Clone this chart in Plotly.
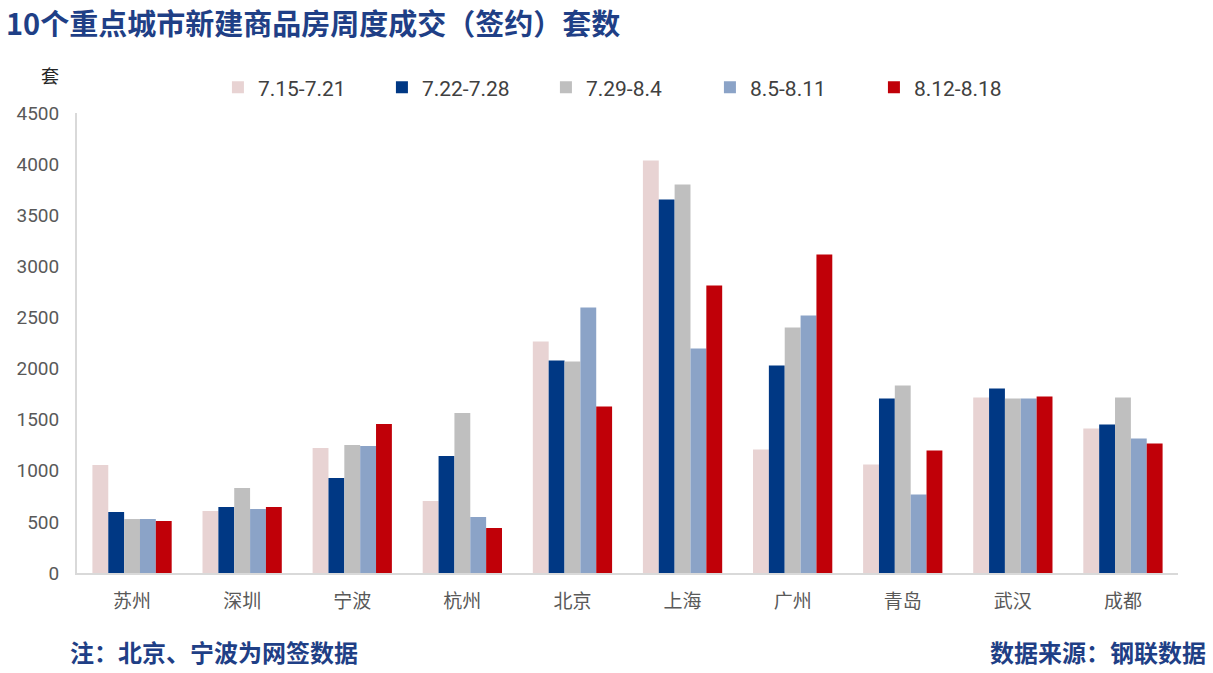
import plotly.graph_objects as go

cities = ["苏州", "深圳", "宁波", "杭州", "北京", "上海", "广州", "青岛", "武汉", "成都"]
weeks = ["7.15-7.21", "7.22-7.28", "7.29-8.4", "8.5-8.11", "8.12-8.18"]
w1 = [1057, 607, 1223, 704, 2265, 4035, 1208, 1061, 1717, 1414]
w2 = [597, 646, 929, 1145, 2079, 3654, 2030, 1707, 1805, 1453]
w3 = [528, 831, 1252, 1565, 2069, 3801, 2402, 1834, 1707, 1717]
w4 = [528, 626, 1242, 548, 2597, 2196, 2519, 768, 1707, 1316]
w5 = [509, 646, 1458, 440, 1629, 2813, 3116, 1198, 1727, 1267]
series = [w1, w2, w3, w4, w5]
colors = ["#E8D3D3", "#003884", "#BFBFBF", "#8BA3C7", "#C00008"]
yticks = [0, 500, 1000, 1500, 2000, 2500, 3000, 3500, 4000, 4500]

fig = go.Figure()
for name, vals, col in zip(weeks, series, colors):
    fig.add_trace(go.Bar(x=cities, y=vals, name=name, marker_color=col,
                         marker_line_width=0))

navy = "#1F3F86"
fig.update_layout(
    width=1213, height=673,
    margin=dict(l=77, r=35, t=113, b=100),
    paper_bgcolor="white", plot_bgcolor="white",
    barmode="group", bargap=0.28, bargroupgap=0,
    font=dict(family="Noto Sans CJK SC, sans-serif", color="#595959"),
    legend=dict(orientation="h", x=0.128, xanchor="left", y=1.055, yanchor="middle",
                font=dict(size=21, color="#404040", family="Roboto, Noto Sans CJK SC"),
                itemwidth=30, traceorder="normal", tracegroupgap=0,
                entrywidth=119, entrywidthmode="pixels"),
    showlegend=True,
    xaxis=dict(showline=True, linecolor="#D9D9D9", linewidth=2, ticks="",
               tickfont=dict(size=19, color="#595959", family="Noto Sans CJK SC"),
               showgrid=False, zeroline=False, ticklabelstandoff=10),
    yaxis=dict(range=[0, 4500], tickvals=yticks, showline=True, linecolor="#D9D9D9",
               linewidth=2, showgrid=False, zeroline=False, ticks="",
               tickfont=dict(size=19, color="#595959", family="Roboto"),
               ticklabelstandoff=12),
    annotations=[
        dict(text="<b>10个重点城市新建商品房周度成交（签约）套数</b>", xref="paper", yref="paper",
             x=-73/1101, y=1 + (113 - 22) / 460, xanchor="left", yanchor="middle",
             showarrow=False, font=dict(size=29, color=navy, family="Noto Sans CJK SC")),
        dict(text="套", xref="paper", yref="paper", x=-27/1101, y=1 + (113 - 75) / 460,
             xanchor="center", yanchor="middle", showarrow=False,
             font=dict(size=18, color="#262626", family="Noto Sans CJK SC")),
        dict(text="<b>注：北京、宁波为网签数据</b>", xref="paper", yref="paper",
             x=-9/1101, y=-(651 - 573) / 460, xanchor="left", yanchor="middle",
             showarrow=False, font=dict(size=24, color=navy, family="Noto Sans CJK SC")),
        dict(text="<b>数据来源：钢联数据</b>", xref="paper", yref="paper",
             x=(1208 - 77) / 1101, y=-(651 - 573) / 460, xanchor="right", yanchor="middle",
             showarrow=False, font=dict(size=24, color=navy, family="Noto Sans CJK SC")),
    ],
)

fig.write_html("out.html")
